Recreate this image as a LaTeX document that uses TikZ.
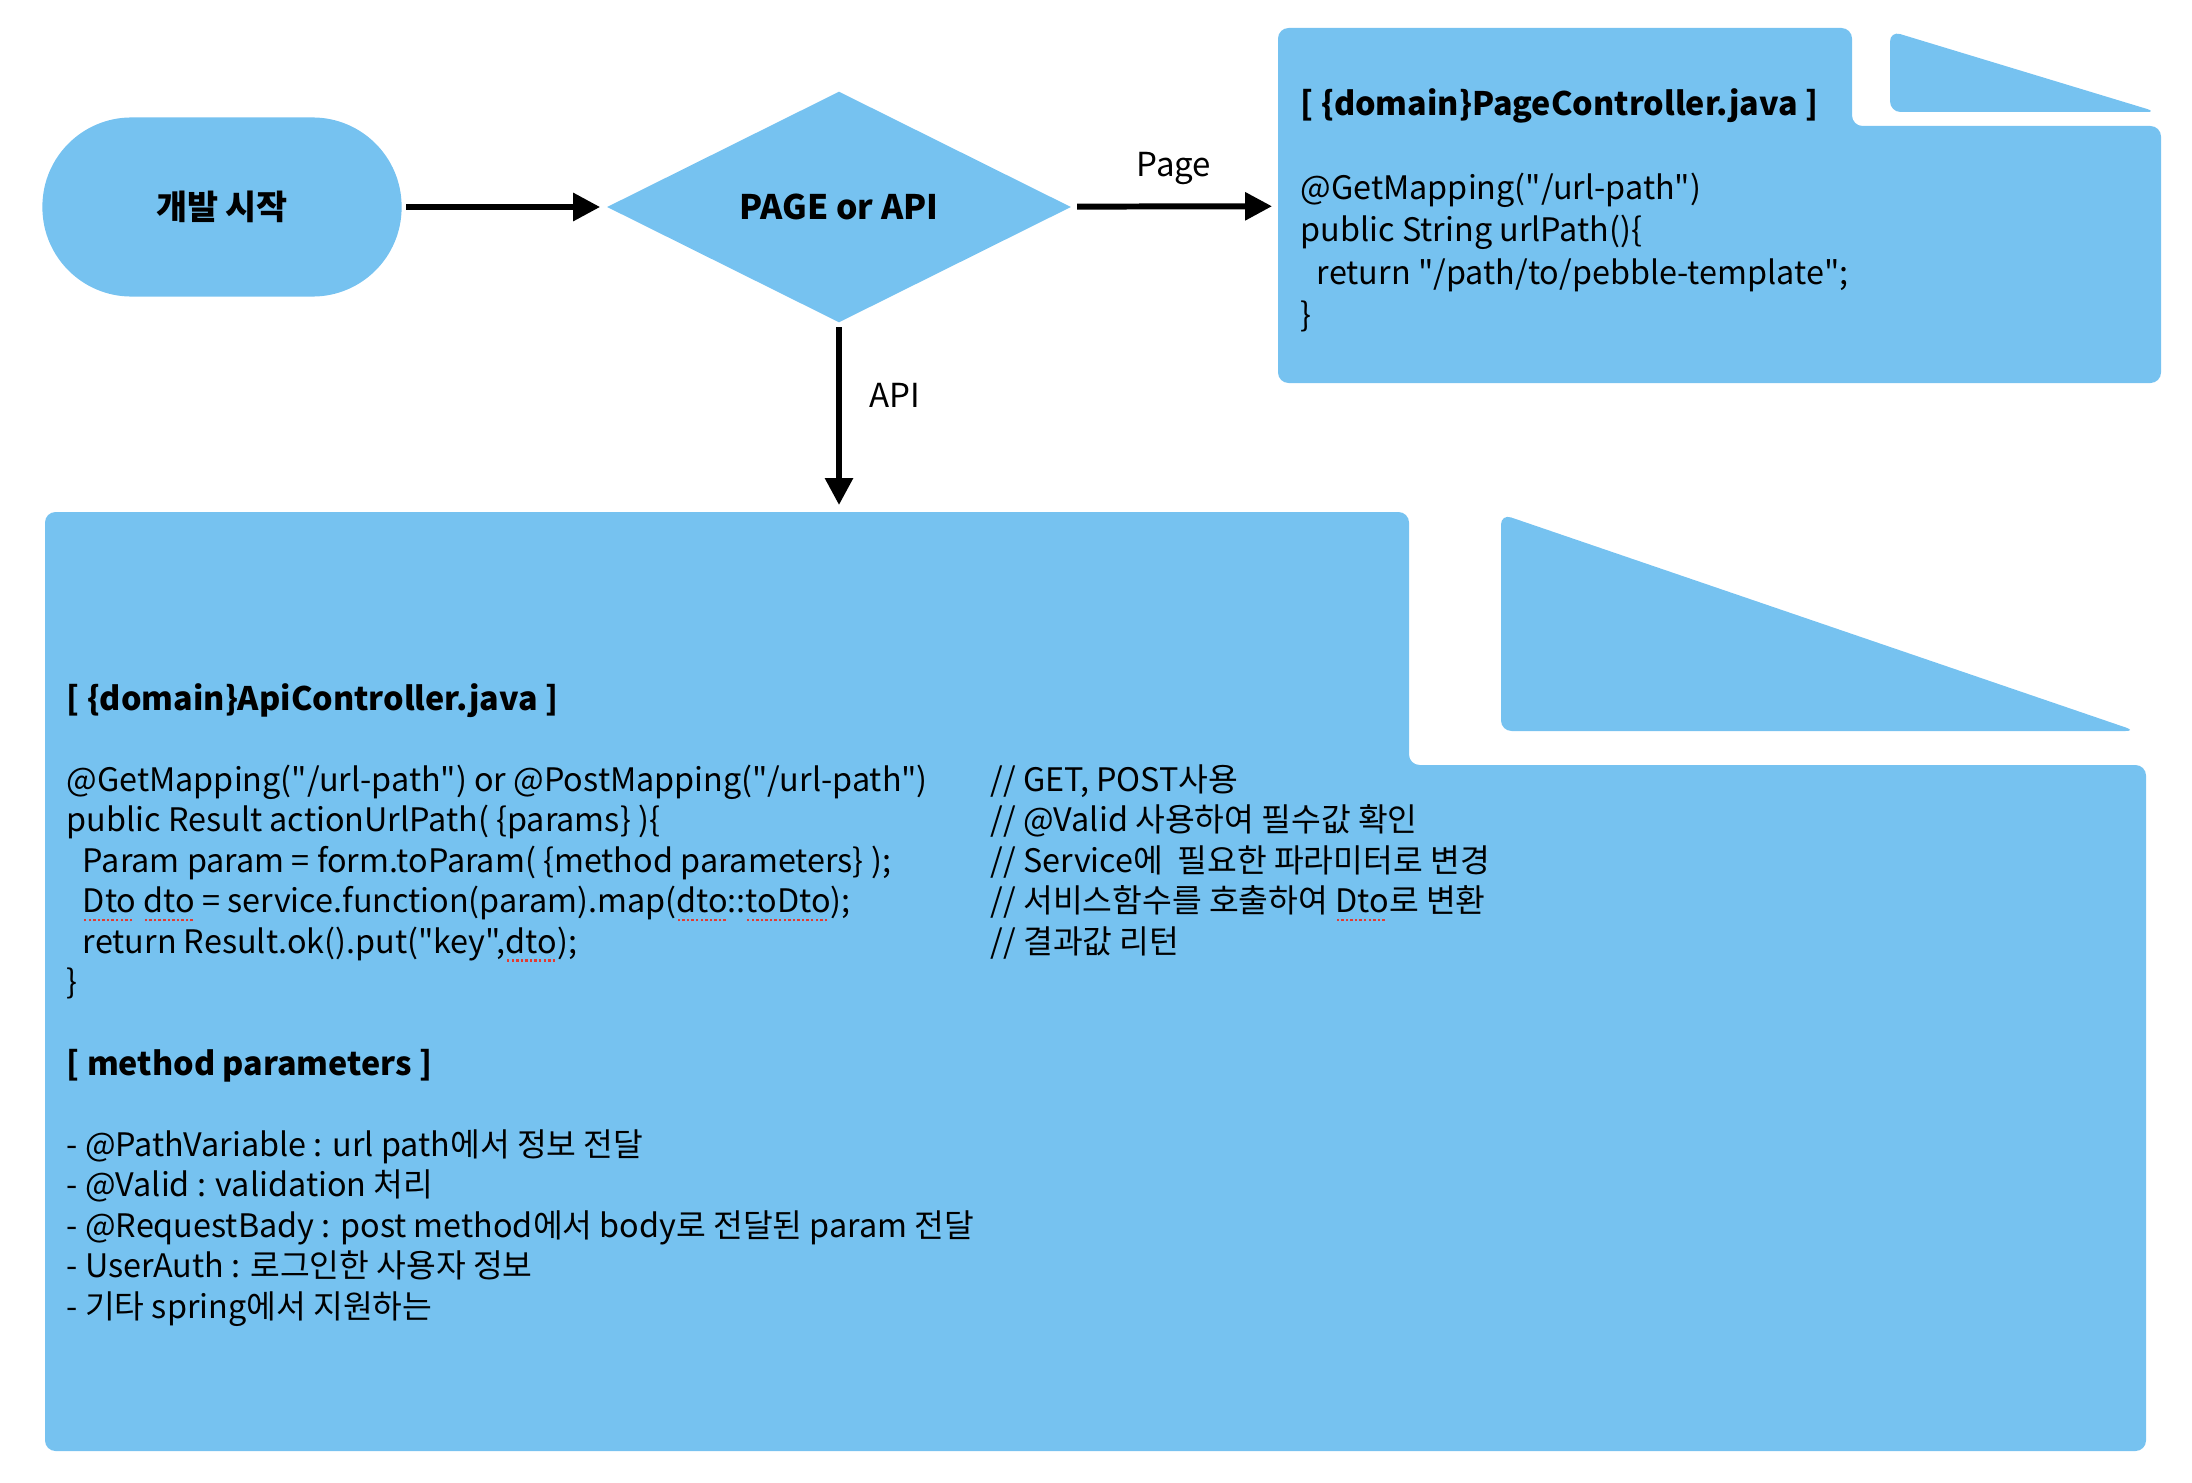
\documentclass[tikz,border=0pt]{standalone}
\usepackage{fontspec}
\setmainfont{Noto Sans CJK KR}[Ligatures=TeXOff]
\usetikzlibrary{arrows.meta,positioning,calc,shapes.geometric}
\definecolor{flowblue}{RGB}{118,194,240}
\definecolor{spellred}{RGB}{225,60,50}
\newsavebox\spellbox
\newcommand\spellmark[1]{\sbox\spellbox{#1}\rlap{\color{spellred}\raisebox{-2.4pt}{\hbox to \wd\spellbox{\leaders\hbox to 1.3pt{\hss\rule{0.7pt}{0.7pt}\hss}\hfill}}}\usebox\spellbox}
\tikzset{
  startbox/.style={fill=flowblue, rounded corners=0.89cm, minimum width=3.59cm, minimum height=1.79cm, inner sep=0pt, font=\bfseries\fontsize{9.6}{12}\selectfont},
  decbox/.style={diamond, fill=flowblue, minimum width=4.64cm, minimum height=2.31cm, inner sep=0pt, font=\bfseries\fontsize{9.6}{12}\selectfont},
  docarea/.style={inner sep=0pt},
  docfill/.style={fill=flowblue, rounded corners=3pt},
  codetxt/.style={anchor=north west, inner sep=0pt, align=left},
  flow/.style={-{Triangle[length=0.27cm,width=0.27cm]}, line width=1.7pt},
  lbl/.style={font=\fontsize{9.4}{12}\selectfont},
}

\begin{document}
\begin{tikzpicture}[x=0.01cm, y=-0.01cm]
  \useasboundingbox (0,0) rectangle (2192,1482);
  % flow nodes
  \node[startbox] (start) at (222,207) {개발 시작};
  \node[decbox] (dec) at (839,207) {PAGE or API};
  \node[docarea, minimum width=8.83cm, minimum height=3.55cm] (pagedoc) at (1719.5,205.5) {};
  \node[docarea, minimum width=21.01cm, minimum height=9.39cm] (apidoc) at (1095.5,981.5) {};
  % document shapes
  \fill[docfill] (1278,28) -- (1852,28) -- (1852,126) -- (2161,126) -- (2161,383) -- (1278,383) -- cycle;
  \fill[docfill] (1890,31) -- (2157,112) -- (1890,112) -- cycle;
  \fill[docfill] (45,512) -- (1409,512) -- (1409,765) -- (2146,765) -- (2146,1451) -- (45,1451) -- cycle;
  \fill[docfill] (1501,514) -- (2136,731) -- (1501,731) -- cycle;
  % texts
  \node[codetxt, font=\fontsize{9.2}{12}\selectfont] (pagetxt) at (1300,85) {%
    \begin{tabular}{@{}l@{}}
    \textbf{[ \{domain\}PageController.java ]}\\
    \\
    @GetMapping("/url-path")\\
    public String urlPath()\{\\
    \hspace*{0.5em}return "/path/to/pebble-template";\\
    \}
    \end{tabular}};
  \node[codetxt, font=\fontsize{9.2}{11.53}\selectfont] (apitxt) at (66,681) {%
    \begin{tabular}{@{}l@{}}
    \textbf{[ \{domain\}ApiController.java ]}\\
    \\
    @GetMapping("/url-path") or @PostMapping("/url-path")\\
    public Result actionUrlPath( \{params\} )\{\\
    \hspace*{0.5em}Param param = form.toParam( \{method parameters\} );\\
    \hspace*{0.5em}\spellmark{Dto} \spellmark{dto} = service.function(param).map(\spellmark{dto}::\spellmark{toDto});\\
    \hspace*{0.5em}return Result.ok().put("key",\spellmark{dto});\\
    \}\\
    \\
    \textbf{[ method parameters ]}\\
    \\
    - @PathVariable : url path에서 정보 전달\\
    - @Valid : validation 처리\\
    - @RequestBady : post method에서 body로 전달된 param 전달\\
    - UserAuth : 로그인한 사용자 정보\\
    - 기타 spring에서 지원하는
    \end{tabular}};
  \node[codetxt, font=\fontsize{9.2}{11.53}\selectfont] (apinote) at (990,762) {%
    \begin{tabular}{@{}l@{}}
    // GET, POST사용\\
    // @Valid 사용하여 필수값 확인\\
    // Service에 \ 필요한 파라미터로 변경\\
    // 서비스함수를 호출하여 \spellmark{Dto}로 변환\\
    // 결과값 리턴
    \end{tabular}};
  % connectors
  \draw[flow, shorten <=0.04cm, shorten >=0.06cm] (start) -- (dec);
  \draw[flow, shorten <=0.06cm, shorten >=0.05cm] (dec) -- (pagedoc);
  \draw[flow, shorten <=0.04cm, shorten >=0.06cm] (dec.south) -- (dec.south |- apidoc.north);
  \node[lbl] (pagelbl) at (1174,169) {Page};
  \node[lbl] (apilbl) at (895,395) {API};
\end{tikzpicture}
\end{document}
